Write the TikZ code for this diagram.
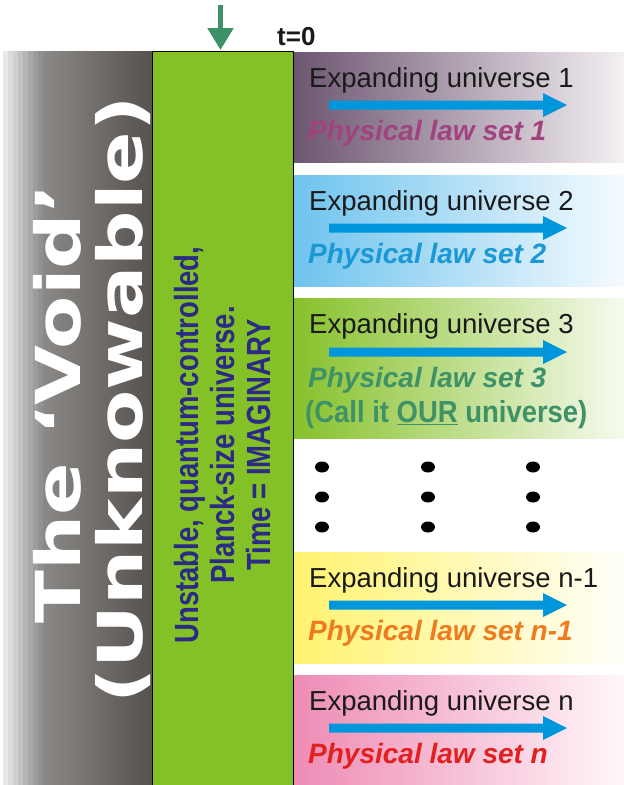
\documentclass[tikz,border=0pt]{standalone}
\usepackage{fontspec}
\setmainfont{Liberation Sans}
\newfontfamily\voidfont[FakeStretch=1.25]{DejaVu Sans}
\newfontfamily\narrowfont[FakeStretch=0.82]{Liberation Sans}
\newfontfamily\semifont[FakeStretch=0.9]{Liberation Sans}
\usetikzlibrary{arrows.meta}
\definecolor{voidmid}{HTML}{8B8987}
\definecolor{voiddark}{HTML}{56514E}
\definecolor{colgreen}{HTML}{84C126}
\definecolor{topgreen}{HTML}{3D9068}
\definecolor{indigo}{HTML}{2B2A85}
\definecolor{arrowblue}{HTML}{0096DB}
\definecolor{textblack}{HTML}{1A1A1A}
\definecolor{pA}{HTML}{6C5570}\definecolor{pAr}{HTML}{F4F0F3}
\definecolor{pB}{HTML}{6EC3EE}\definecolor{pBr}{HTML}{F6FBFE}
\definecolor{pC}{HTML}{86C12A}\definecolor{pCr}{HTML}{F6FAEE}
\definecolor{pD}{HTML}{FFF36E}\definecolor{pDr}{HTML}{FFFFFA}
\definecolor{pE}{HTML}{EE8BB4}\definecolor{pEr}{HTML}{FFF7FA}
\definecolor{lawA}{HTML}{A0437F}
\definecolor{lawB}{HTML}{1C98D6}
\definecolor{lawC}{HTML}{3F9168}
\definecolor{lawD}{HTML}{EE7B1F}
\definecolor{lawE}{HTML}{E1201F}
\newcommand\uniarrow[1]{\fill[arrowblue] (329,#1-4.5) -- (543,#1-4.5) -- (543,#1-12) -- (567,#1) -- (543,#1+12) -- (543,#1+4.5) -- (329,#1+4.5) -- cycle;}
\tikzset{
  exptext/.style={anchor=base west, inner sep=0pt, text=textblack, font=\fontsize{27.5}{32}\selectfont},
  lawtext/.style={anchor=base west, inner sep=0pt, font=\fontsize{28}{32}\selectfont\bfseries\itshape},
  voidtext/.style={rotate=90, anchor=base, inner sep=0pt, text=white, font=\fontsize{62}{62}\voidfont\bfseries},
  dotmark/.style={fill=black},
}
\begin{document}
\begin{tikzpicture}[x=1pt,y=-1pt]
\useasboundingbox (0,0) rectangle (624,785);
\fill[white] (0,0) rectangle (624,785);
% the void column
\foreach \i/\g in {0/91,1/86,2/81,3/76,4/71,5/66,6/61,7/57}
  \fill[white!\g!black] (3+5*\i,51) rectangle (8.3+5*\i,785);
\shade[left color=voidmid, right color=voiddark] (43,51) rectangle (152,785);
% panels
\shade[left color=pA, right color=pAr] (293,52) rectangle (624,162);
\shade[left color=pB, right color=pBr] (293,175) rectangle (624,286);
\shade[left color=pC, right color=pCr] (293,298) rectangle (624,438);
\shade[left color=pD, right color=pDr] (293,552) rectangle (624,663);
\shade[left color=pE, right color=pEr] (293,675) rectangle (624,785);
% green column
\draw[fill=colgreen, line width=0.9pt] (152,51) rectangle (293,786);
% top arrow
\coordinate (arrtop) at (220.5,5);
\coordinate (arrtip) at (220.5,50);
\draw[topgreen, line width=5.3pt, -{Triangle[width=25pt,length=22pt]}] (arrtop) -- (arrtip);
\node[anchor=base west, inner sep=0pt, text=textblack, font=\fontsize{26}{30}\selectfont\bfseries] (tzero) at (277,45) {t=0};
% vertical texts
\node[voidtext] (void1) at (80,404) {The ‘Void’};
\node[voidtext] (void2) at (142,400) {(Unknowable)};
\node[rotate=90, text=indigo, align=center, inner sep=0pt, font=\fontsize{33.5}{36}\narrowfont\bfseries] (planck) at (223,445) {Unstable, quantum-controlled,\\Planck-size universe.\\Time = IMAGINARY};
% universes
\node[exptext] (e1) at (309,87) {Expanding universe 1};
\uniarrow{105}
\node[lawtext, text=lawA] (l1) at (308,140) {Physical law set 1};
\node[exptext] (e2) at (309,210) {Expanding universe 2};
\uniarrow{228}
\node[lawtext, text=lawB] (l2) at (308,263) {Physical law set 2};
\node[exptext] (e3) at (309,333) {Expanding universe 3};
\uniarrow{352}
\node[lawtext, text=lawC] (l3) at (308,387) {Physical law set 3};
\node[anchor=base west, inner sep=0pt, text=lawC, font=\fontsize{30.5}{34}\semifont\bfseries] (call) at (305,422) {(Call it \underline{OUR} universe)};
\node[exptext] (e4) at (309,587) {Expanding universe n-1};
\uniarrow{605}
\node[lawtext, text=lawD] (l4) at (308,640) {Physical law set n-1};
\node[exptext] (e5) at (309,710) {Expanding universe n};
\uniarrow{728}
\node[lawtext, text=lawE] (l5) at (308,763) {Physical law set n};
% dots
\foreach \dx in {322,428,533}
  \foreach \dy in {467,497,527}
    \fill[dotmark] (\dx,\dy) ellipse [x radius=7, y radius=5.5];
\end{tikzpicture}
\end{document}
